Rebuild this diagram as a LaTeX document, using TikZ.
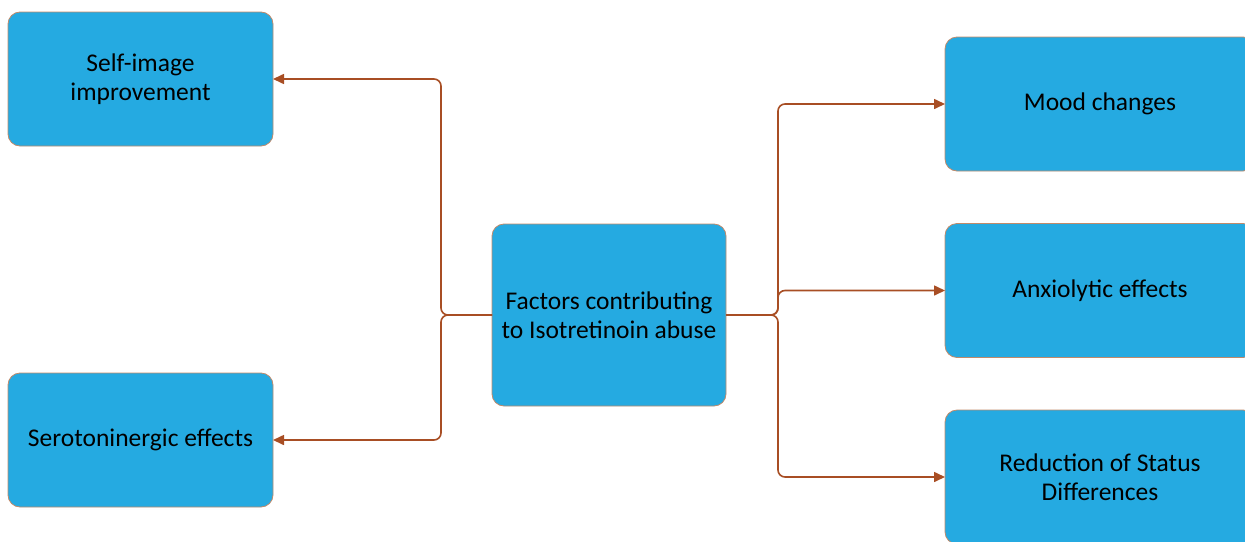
\documentclass[tikz,border=0pt]{standalone}
\usepackage{fontspec}
\setmainfont{Carlito}
\usetikzlibrary{arrows.meta}
\definecolor{boxblue}{HTML}{25AAE1}
\definecolor{edgebrown}{HTML}{A84E24}
\definecolor{boxline}{HTML}{C08A6A}
\begin{document}
\begin{tikzpicture}[x=1pt,y=-1pt,
 box/.style={draw=boxline, line width=0.8pt, fill=boxblue, rounded corners=12pt, align=center, font=\fontsize{25.5}{29.5}\selectfont, inner sep=0pt, outer sep=0pt, execute at begin node={\vspace*{5pt}}},
 conn/.style={draw=edgebrown, line width=1.6pt, rounded corners=7pt, -{Triangle[length=11pt,width=10pt]}}]
\useasboundingbox (0,0) rectangle (1245,541);
\node[box, minimum width=265pt, minimum height=134pt] (self) at (140.5,79) {Self-image\\improvement};
\node[box, minimum width=265pt, minimum height=134pt] (sero) at (140.5,440) {Serotoninergic effects};
\node[box, minimum width=234pt, minimum height=182pt] (c) at (609,315) {Factors contributing\\to Isotretinoin abuse};
\node[box, minimum width=310pt, minimum height=134pt] (mood) at (1100,104) {Mood changes};
\node[box, minimum width=310pt, minimum height=134pt] (anx) at (1100,290.5) {Anxiolytic effects};
\node[box, minimum width=310pt, minimum height=134pt] (red) at (1100,477) {Reduction of Status\\Differences};
\coordinate (jl) at (441,315);
\coordinate (jr) at (778,315);
\draw[conn] (c.west) -- (jl) |- (self.east);
\draw[conn] (c.west) -- (jl) |- (sero.east);
\draw[conn] (c.east) -- (jr) |- (mood.west);
\draw[conn] (c.east) -- (jr) |- (anx.west);
\draw[conn] (c.east) -- (jr) |- (red.west);
\end{tikzpicture}
\end{document}
